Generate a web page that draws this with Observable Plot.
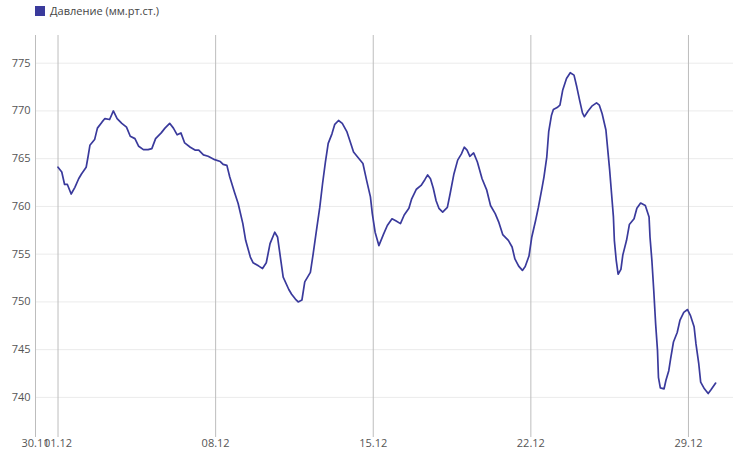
<!DOCTYPE html>
<html>
<head>
<meta charset="utf-8">
<script src="https://cdn.jsdelivr.net/npm/d3@7"></script>
<script src="https://cdn.jsdelivr.net/npm/@observablehq/plot@0.6"></script>
<style>
  body { margin: 0; background: #fff; font-family: "Open Sans", sans-serif; }
  #wrap { position: relative; width: 733px; height: 451px; }
  #legend { position: absolute; left: 35px; top: 3px; font-size: 11px; color: #444; display: flex; align-items: center; z-index: 2; }
  #legend .sw { display: inline-block; width: 10px; height: 10px; background: #3a3a9c; margin-right: 5px; }
  #chart { position: absolute; left: 0; top: 0; }
</style>
</head>
<body>
<div id="wrap">
  <div id="legend"><span class="sw"></span><span id="legendText"></span></div>
  <div id="chart"></div>
</div>
<script>
const seriesName = "Давление (мм.рт.ст.)";
// hours since 01.12 00:00
const hours = [0,4,7,10,14,18,22,25,30,32,34,39,42,47,50,55,59,63,68,73,77,82,86,91,96,100,104,110,114,119,123,127,131,135,141,146,150,155,160,167,173,176,180,183,188,192,197,200,205,208,214,218,222,226,231,234,237,240,246,249,253,256,260,263,269,272,276,279,282,285,288,292,295,299,303,308,311,315,320,325,329,333,335,338,342,347,351,356,360,365,369,374,377,382,387,391,394,397,400,403,406,410,415,418,422,426,430,433,436,439,443,447,452,457,461,466,470,474,480,484,487,491,495,498,502,505,509,512,516,518,521,523,526,528,532,535,538,542,546,550,553,556,559,561,565,569,574,577,580,584,586,588,590,592,593,595,597,600,602,606,609,614,617,621,626,630,631,633,635,637,639,640,642,646,648,651,653,656,660,663,667,671,674,678,680,683,685,689,693,696,701];
const pressure = [764.1,763.6,762.3,762.3,761.3,762.0,762.9,763.4,764.1,765.2,766.4,767.0,768.2,768.85,769.2,769.1,770.0,769.2,768.7,768.3,767.35,767.1,766.3,765.95,765.95,766.05,767.1,767.7,768.2,768.7,768.2,767.5,767.7,766.65,766.2,765.9,765.9,765.4,765.25,764.9,764.7,764.4,764.3,763.1,761.5,760.3,758.2,756.45,754.7,754.1,753.75,753.5,754.1,756.1,757.3,756.8,754.7,752.6,751.3,750.8,750.3,750.0,750.2,752.1,753.1,755.05,757.85,759.9,762.4,764.65,766.6,767.6,768.6,769.0,768.7,767.8,766.9,765.7,765.1,764.5,762.7,761.0,759.25,757.3,755.9,757.1,758.0,758.7,758.5,758.2,759.1,759.8,760.8,761.8,762.2,762.8,763.3,762.9,761.9,760.6,759.8,759.4,759.9,761.35,763.4,764.85,765.5,766.2,765.9,765.25,765.6,764.65,762.9,761.7,760.1,759.25,758.3,757.05,756.45,755.75,754.5,753.75,753.3,753.7,754.8,756.8,758.5,759.9,762.0,763.1,765.2,767.8,769.55,770.15,770.35,770.6,772.2,773.4,774.0,773.75,772.5,771.1,769.8,769.4,770.0,770.5,770.85,770.6,769.7,768.0,765.9,763.8,761.35,758.9,756.45,754.35,752.9,753.4,754.9,756.45,758.1,758.7,759.8,760.35,760.1,758.9,756.8,754.35,751.2,747.7,744.9,742.1,741.0,740.9,741.8,742.8,744.05,745.8,746.8,748.1,748.9,749.2,748.6,747.4,745.6,743.5,741.6,740.9,740.4,740.8,741.5];
const xTickLabels = ["2023-11-30","2023-12-01","2023-12-08","2023-12-15","2023-12-22","2023-12-29"];
const yTicks = [740,745,750,755,760,765,770,775];

const start = Date.UTC(2023, 11, 1);
const data = hours.map((h, i) => ({date: new Date(start + h * 3600e3), p: pressure[i]}));
const xTicks = xTickLabels.map(s => new Date(s + "T00:00:00Z"));
const fmt = d3.utcFormat("%d.%m");

document.getElementById("legendText").textContent = seriesName;

const chart = Plot.plot({
  width: 733,
  height: 451,
  marginTop: 35,
  marginBottom: 14,
  marginLeft: 35,
  marginRight: 0,
  style: {fontFamily: "Open Sans, sans-serif", fontSize: "11px", color: "#555", background: "transparent"},
  x: {type: "utc", domain: [new Date(Date.UTC(2023,10,30)), new Date(Date.UTC(2023,11,31))]},
  y: {domain: [735.8, 777.9]},
  marks: [
    Plot.ruleY(yTicks, {stroke: "#ebebeb", strokeWidth: 1}),
    Plot.ruleX(xTicks, {stroke: "#bdbdbd", strokeWidth: 1}),
    Plot.line(data, {x: "date", y: "p", stroke: "#3a3a9c", strokeWidth: 1.7}),
    Plot.axisX(xTicks, {tickSize: 0, tickPadding: 2, tickFormat: fmt, label: null, fill: "#555"}),
    Plot.axisY(yTicks, {tickSize: 0, tickPadding: 5, label: null, fill: "#555"})
  ]
});
document.getElementById("chart").appendChild(chart);
</script>
</body>
</html>
